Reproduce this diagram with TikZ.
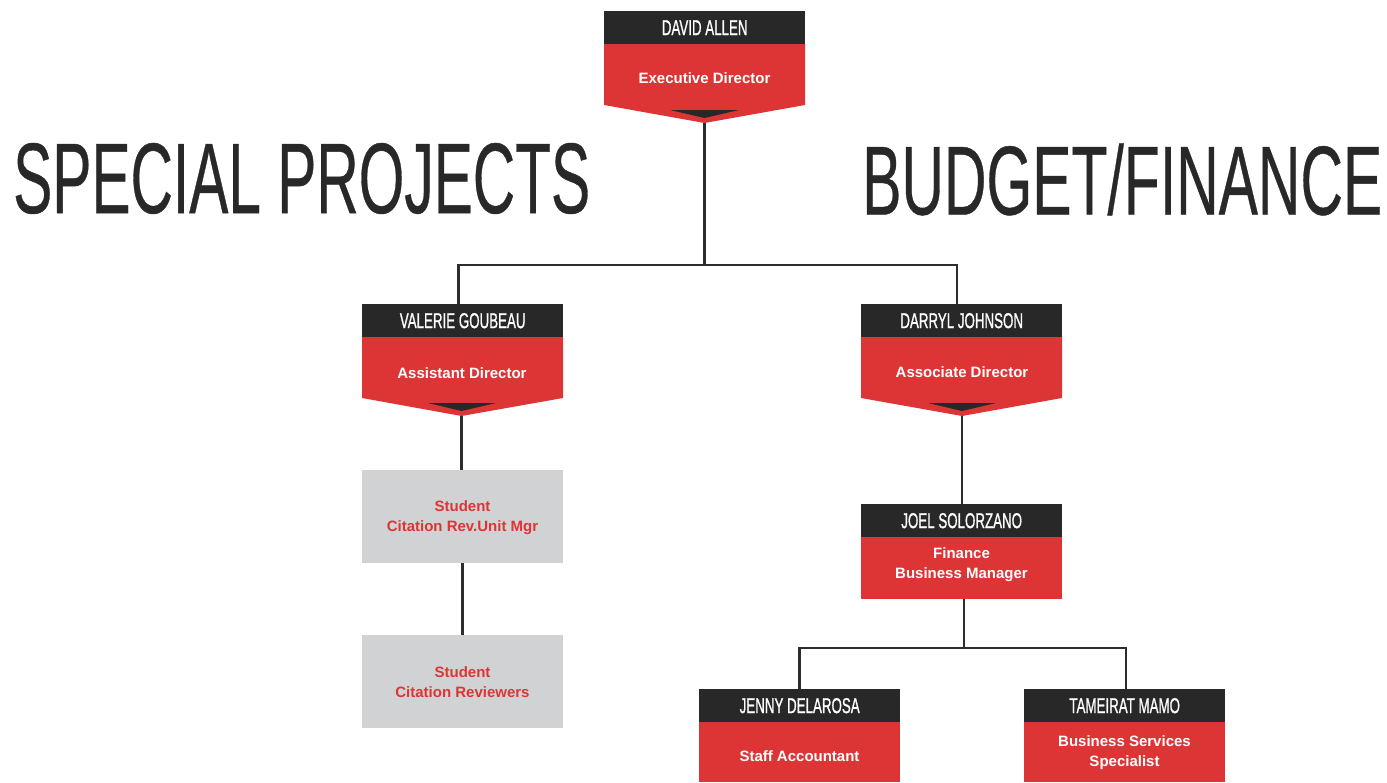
\documentclass[tikz,border=0pt]{standalone}
\usepackage{fontspec}
\setmainfont{Liberation Sans}
\newfontfamily\condfont[FakeBold=1.2]{Liberation Sans}
\newfontfamily\titlefont[FakeBold=0.5]{Liberation Sans}
\definecolor{cred}{RGB}{221,53,53}
\definecolor{cblack}{RGB}{40,40,40}
\definecolor{cgrey}{RGB}{209,210,212}
\definecolor{cline}{RGB}{45,45,45}
\newcommand{\nmtext}[1]{\scalebox{0.62}[1]{\condfont\fontsize{21.5}{21.5}\selectfont #1}}
\begin{document}
\begin{tikzpicture}[x=1pt,y=-1pt,
  hdr/.style={fill=cblack, text=white, minimum width=201pt, minimum height=33pt, inner sep=0pt, anchor=north west},
  redbox/.style={fill=cred, minimum width=201pt, inner sep=0pt, anchor=north west},
  greybox/.style={fill=cgrey, minimum width=201pt, minimum height=93pt, inner sep=0pt, anchor=north west},
  bodytext/.style={text=white, font=\bfseries\fontsize{15}{19.5}\selectfont, align=center, inner sep=0pt},
  greytext/.style={text=cred, font=\bfseries\fontsize{15}{20}\selectfont, align=center, inner sep=0pt},
  chev/.style={fill=cred},
  notch/.style={fill=cblack},
  conn/.style={draw=cline, line width=2.5pt},
  title/.style={text=cblack, inner sep=0pt, anchor=base west}
]
\useasboundingbox (0,0) rectangle (1387,782);

% named points of the connectors
\coordinate (dtip) at (704.5,123);
\coordinate (vtip) at (461.5,416);
\coordinate (rtip) at (962,416);
\coordinate (top) at (704.5,265);
\coordinate (jbus) at (964,648);

% boxes used by the connectors
\node[hdr] (vh) at (362,304) {\nmtext{VALERIE GOUBEAU}};
\node[hdr] (rh) at (861,304) {\nmtext{DARRYL JOHNSON}};
\node[greybox] (g1) at (362,470) {};
\node[greybox] (g2) at (362,635) {};
\node[hdr] (jh) at (861,504) {\nmtext{JOEL SOLORZANO}};
\node[redbox, minimum height=62pt] (jb) at (861,537) {};
\node[hdr] (eh) at (699,689) {\nmtext{JENNY DELAROSA}};
\node[hdr] (th) at (1024,689) {\nmtext{TAMEIRAT MAMO}};

% connectors
\draw[conn] (dtip) -- (top) -| ([xshift=-4pt]vh.north);
\draw[conn] (top) -| ([xshift=-4.5pt]rh.north);
\draw[conn] (vtip) -- (vtip |- g1.north);
\draw[conn] (g1.south) -- (g2.north);
\draw[conn] (rtip) -- (rtip |- jh.north);
\draw[conn] (jbus |- jb.south) -- (jbus) -| (eh.north);
\draw[conn] (jbus) -| ([xshift=1.5pt]th.north);

% David Allen
\node[hdr] (dh) at (604,11) {\nmtext{DAVID ALLEN}};
\fill[chev] (604,44) -- (805,44) -- (805,105) -- (dtip) -- (604,105) -- cycle;
\fill[notch] (670,110) -- (739,110) -- (704.5,118) -- cycle;
\node[bodytext] (dt) at (704.5,78) {Executive Director};

% Valerie
\fill[chev] (362,337) -- (563,337) -- (563,398) -- (vtip) -- (362,398) -- cycle;
\fill[notch] (428,403) -- (496,403) -- (461.5,411) -- cycle;
\node[bodytext] (vt) at (462,373) {Assistant Director};

% Darryl
\fill[chev] (861,337) -- (1062,337) -- (1062,398) -- (rtip) -- (861,398) -- cycle;
\fill[notch] (928,403) -- (996,403) -- (962,411) -- cycle;
\node[bodytext] (rt) at (962,372) {Associate Director};

% grey box texts
\node[greytext] (g1t) at (462.5,518) {Student\\Citation Rev.Unit Mgr};
\node[greytext] (g2t) at (462.5,682) {Student\\Citation Reviewers};

% Joel body text
\node[bodytext] (jt) at (961.5,564.5) {Finance\\Business Manager};

% Jenny / Tameirat bodies
\node[redbox, minimum height=60pt] (eb) at (699,722) {};
\node[bodytext] (et) at (799.5,756) {Staff Accountant};
\node[redbox, minimum height=60pt] (tb) at (1024,722) {};
\node[bodytext] (tt) at (1124.5,752.5) {Business Services\\Specialist};

% titles
\node[title] (sp) at (13,213) {\resizebox{577pt}{70pt}{\titlefont\fontsize{98}{98}\selectfont SPECIAL PROJECTS}};
\node[title] (bf) at (862,214.5) {\resizebox{520pt}{71pt}{\titlefont\fontsize{98}{98}\selectfont BUDGET/FINANCE}};
\end{tikzpicture}
\end{document}
